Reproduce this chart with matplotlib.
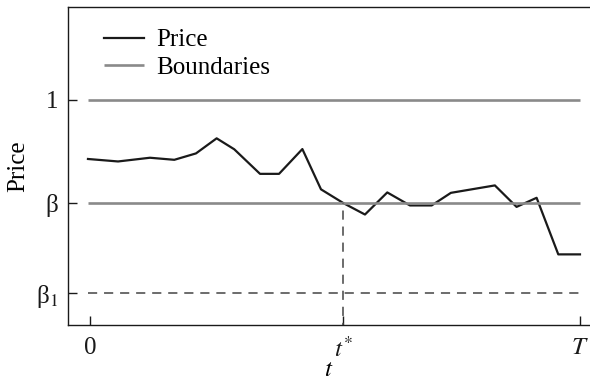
import matplotlib
matplotlib.use("Agg")
import matplotlib.pyplot as plt

plt.rcParams['font.family'] = ['Liberation Serif', 'DejaVu Serif']
plt.rcParams['mathtext.fontset'] = 'stix'

# price path (time, price)
t = [-0.1, 1.37, 2.93, 4.12, 5.18, 6.19, 7.05, 8.31, 9.24, 10.38, 11.29,
     12.39, 13.44, 14.53, 15.64, 16.70, 17.64, 19.79, 20.85, 21.83, 22.89, 23.95]
price = [0.714, 0.702, 0.720, 0.710, 0.741, 0.814, 0.761, 0.642, 0.642, 0.762, 0.567,
         0.500, 0.445, 0.552, 0.489, 0.489, 0.550, 0.586, 0.482, 0.526, 0.252, 0.252]

upper = 1.0
beta = 0.5
beta1 = 0.065
t_start, t_star, T = -0.1, 12.39, 23.95

fig = plt.figure(figsize=(5.9, 3.81), dpi=100)
ax = fig.add_axes([0.1153, 0.147, 0.8847, 0.8346])

ax.plot(t, price, color='#1a1a1a', lw=1.6, label='Price')
ax.hlines([upper, beta], t_start, T, color='#8a8a8a', lw=1.9, label='Boundaries')
ax.hlines(beta1, t_start, T, color='#444444', lw=1.1, linestyles=(0, (6, 4.5)))
ax.vlines(t_star, -0.2, beta, color='#444444', lw=1.1, linestyles=(0, (6, 4.5)))

ax.set_xlim(-1.075, 24.44)
ax.set_ylim(-0.09, 1.45)

ax.set_xticks([0, t_star, T])
ax.set_xticklabels(['0', r'$t^{*}$', r'$T$'])
ax.set_yticks([beta1, beta, upper])
ax.set_yticklabels(['β$_1$', 'β', '1'])
ax.tick_params(direction='in', length=6.5, width=1, labelsize=18, colors='#1a1a1a', pad=7)
ax.tick_params(axis='x', pad=9)
ax.set_xlabel(r'$t$', fontsize=18, labelpad=-2.5)
ax.set_ylabel('Price', fontsize=18, labelpad=5)

ax.spines['right'].set_visible(False)
for s in ('left', 'top', 'bottom'):
    ax.spines[s].set_linewidth(1.0)
    ax.spines[s].set_color('#1a1a1a')

handles, labels = ax.get_legend_handles_labels()
ax.legend(handles, labels, loc='upper left', bbox_to_anchor=(0.050, 0.963), frameon=False,
          fontsize=18, handlelength=1.6, handletextpad=0.5, labelspacing=0.2,
          borderaxespad=0)

fig.savefig('out.png', dpi=100)
